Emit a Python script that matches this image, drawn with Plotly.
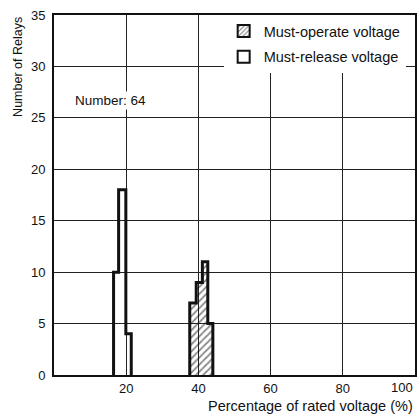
import plotly.graph_objects as go

# ---- data ----
release_edges = [16.5, 17.9, 19.9, 21.4]
release_counts = [10, 18, 4]
operate_edges = [37.6, 39.4, 41.1, 42.6, 44.0]
operate_counts = [7, 9, 11, 5]
x_ticks = [20, 40, 60, 80]
x_last_tick = 100
y_ticks = [0, 5, 10, 15, 20, 25, 30, 35]
total_relays = 64

FONT = "Liberation Sans, Arial, Helvetica, sans-serif"
INK = "#111111"


def step_outline(edges, counts):
    xs, ys = [edges[0]], [0]
    for i, c in enumerate(counts):
        xs += [edges[i], edges[i + 1]]
        ys += [c, c]
    xs.append(edges[-1])
    ys.append(0)
    return xs, ys


def centers_widths(edges):
    c = [(edges[i] + edges[i + 1]) / 2 for i in range(len(edges) - 1)]
    w = [edges[i + 1] - edges[i] for i in range(len(edges) - 1)]
    return c, w


fig = go.Figure()

# hatched fill for must-operate
oc, ow = centers_widths(operate_edges)
fig.add_trace(go.Bar(
    x=oc, y=operate_counts, width=ow, showlegend=False,
    marker=dict(color="rgba(255,255,255,0)", line=dict(width=0),
                pattern=dict(shape="/", fgcolor=INK, bgcolor="rgba(255,255,255,0)",
                             size=5, solidity=0.35)),
    hoverinfo="skip",
))

# step outlines
for edges, counts in [(operate_edges, operate_counts), (release_edges, release_counts)]:
    xs, ys = step_outline(edges, counts)
    fig.add_trace(go.Scatter(x=xs, y=ys, mode="lines", showlegend=False,
                             line=dict(color=INK, width=3), hoverinfo="skip"))

# legend entries
fig.add_trace(go.Bar(
    x=[None], y=[None], name="Must-operate voltage", legendgroup="a",
    marker=dict(color="white", line=dict(color=INK, width=2),
                pattern=dict(shape="/", fgcolor=INK, bgcolor="white", size=4, solidity=0.35)),
))
fig.add_trace(go.Bar(
    x=[None], y=[None], name="Must-release voltage", legendgroup="b",
    marker=dict(color="white", line=dict(color=INK, width=2)),
))

fig.update_layout(
    width=417, height=418,
    margin=dict(l=54, r=2, t=15, b=43, autoexpand=False),
    paper_bgcolor="white", plot_bgcolor="white",
    font=dict(family=FONT, color=INK, size=13),
    barmode="overlay",
    legend=dict(x=0.47, y=1.0, xanchor="left", yanchor="top",
                bgcolor="white", borderwidth=0, font=dict(size=14.5, family=FONT),
                traceorder="grouped", tracegroupgap=4, itemwidth=30),
    xaxis=dict(range=[0, 100], tickvals=x_ticks,
               showgrid=True, gridcolor="#222222", gridwidth=1,
               showline=True, linecolor=INK, linewidth=2, mirror=True,
               ticks="", zeroline=False, tickfont=dict(size=13), automargin=False),
    yaxis=dict(range=[0, 35], tickvals=y_ticks,
               showgrid=True, gridcolor="#222222", gridwidth=1,
               showline=True, linecolor=INK, linewidth=2, mirror=True,
               ticks="", zeroline=False, tickfont=dict(size=13),
               ticklabelstandoff=4, automargin=False),
    annotations=[
        dict(text=str(x_last_tick), x=x_last_tick, y=-0.035, xref="x", yref="paper",
             xanchor="right", yanchor="middle", showarrow=False, font=dict(size=13)),
        dict(text=f"Number: {total_relays}", x=15.6, y=26.7, xref="x", yref="y",
             showarrow=False, bgcolor="white", font=dict(size=13.5)),
        dict(text="Percentage of rated voltage (%)", x=1, y=-0.086, xref="paper", yref="paper",
             xanchor="right", yanchor="middle", showarrow=False, font=dict(size=14.5)),
        dict(text="Number of Relays", x=-0.1, y=1, xref="paper", yref="paper",
             xanchor="center", yanchor="top", textangle=-90, showarrow=False,
             font=dict(size=12.5)),
    ],
)

fig.write_html("out.html", config={"displayModeBar": False},
               post_script="document.body.style.margin='0';document.body.style.overflow='hidden';")
